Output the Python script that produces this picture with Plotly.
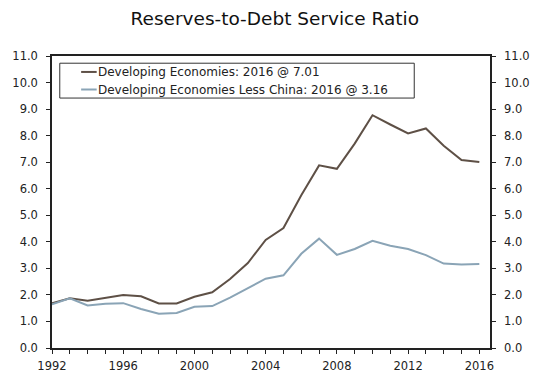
import plotly.graph_objects as go

years = list(range(1992, 2017))
developing = [1.68, 1.87, 1.78, 1.90, 2.00, 1.95, 1.68, 1.68, 1.93, 2.10, 2.60, 3.20,
              4.07, 4.52, 5.75, 6.88, 6.75, 7.70, 8.77, 8.42, 8.08, 8.27, 7.62, 7.08, 7.01]
less_china = [1.65, 1.87, 1.60, 1.67, 1.69, 1.47, 1.29, 1.32, 1.55, 1.58, 1.90, 2.25,
              2.61, 2.74, 3.55, 4.12, 3.51, 3.73, 4.04, 3.85, 3.73, 3.50, 3.18, 3.15, 3.16]
names = ["Developing Economies: 2016 @ 7.01",
         "Developing Economies Less China: 2016 @ 3.16"]
colors = ["#5e5046", "#8aa4b6"]
y_ticks = [i * 1.0 for i in range(0, 12)]
x_ticks = [1992, 1996, 2000, 2004, 2008, 2012, 2016]

FONT = "DejaVu Sans"
fig = go.Figure()
for vals, name, col in zip([developing, less_china], names, colors):
    fig.add_trace(go.Scatter(x=years, y=vals, mode="lines", name=name,
                             line=dict(color=col, width=2), showlegend=False))
# invisible trace for right axis
fig.add_trace(go.Scatter(x=[years[0]], y=[0], yaxis="y2", mode="markers",
                         marker=dict(opacity=0), showlegend=False, hoverinfo="skip"))

fig.update_layout(
    width=542, height=385,
    margin=dict(l=52, r=39, t=56, b=22),
    paper_bgcolor="white", plot_bgcolor="white",
    font=dict(family=FONT, size=11, color="#222"),
    title=dict(text="Reserves-to-Debt Service Ratio", x=0.507, xanchor="center",
               y=0.951, yanchor="middle", font=dict(family=FONT, size=18.5, color="#111")),
    xaxis=dict(range=[1992, 2016.6], tickvals=x_ticks, ticktext=[str(v) for v in x_ticks],
               ticks="outside", ticklen=4, tickcolor="#222", showgrid=False, zeroline=False,
               showline=True, linecolor="#222", linewidth=1.5, mirror=True,
               minor=dict(dtick=1, tick0=1992, ticks="outside", ticklen=4, tickcolor="#222"),
               tickfont=dict(size=11.5), ticklabelstandoff=2),
    yaxis=dict(range=[0, 11], tickvals=y_ticks, ticktext=[f"{v:.1f}" for v in y_ticks],
               ticks="outside", ticklen=4, tickcolor="#222", showgrid=False, zeroline=False,
               showline=True, linecolor="#222", linewidth=1.5, tickfont=dict(size=11.5),
               ticklabelstandoff=6),
    yaxis2=dict(range=[0, 11], tickvals=y_ticks, ticktext=[f"{v:.1f}" for v in y_ticks],
                overlaying="y", side="right", anchor="x",
                ticks="outside", ticklen=4, tickcolor="#222", showgrid=False, zeroline=False,
                showline=True, linecolor="#222", linewidth=1.5, tickfont=dict(size=11.5),
                ticklabelstandoff=6),
)

# manual legend box
fig.add_shape(type="rect", xref="paper", yref="paper",
              x0=(60 - 52) / 451, x1=(425 - 52) / 451,
              y0=(363.3 - 100) / 307.6, y1=(363.3 - 63.3) / 307.6,
              line=dict(color="#333", width=1), fillcolor="white")
for i, (name, col) in enumerate(zip(names, colors)):
    ypix = 72.5 + i * 18.5
    yp = (363.3 - ypix) / 307.6
    fig.add_shape(type="line", xref="paper", yref="paper",
                  x0=(82 - 52) / 451, x1=(98 - 52) / 451, y0=yp, y1=yp,
                  line=dict(color=col, width=2))
    fig.add_annotation(xref="paper", yref="paper", x=(97 - 52) / 451, y=yp,
                       text=name, showarrow=False, xanchor="left", yanchor="middle",
                       font=dict(family=FONT, size=12, color="#222"))

fig.write_html("out.html", config={"displayModeBar": False},
               post_script="document.body.style.margin='0';")
